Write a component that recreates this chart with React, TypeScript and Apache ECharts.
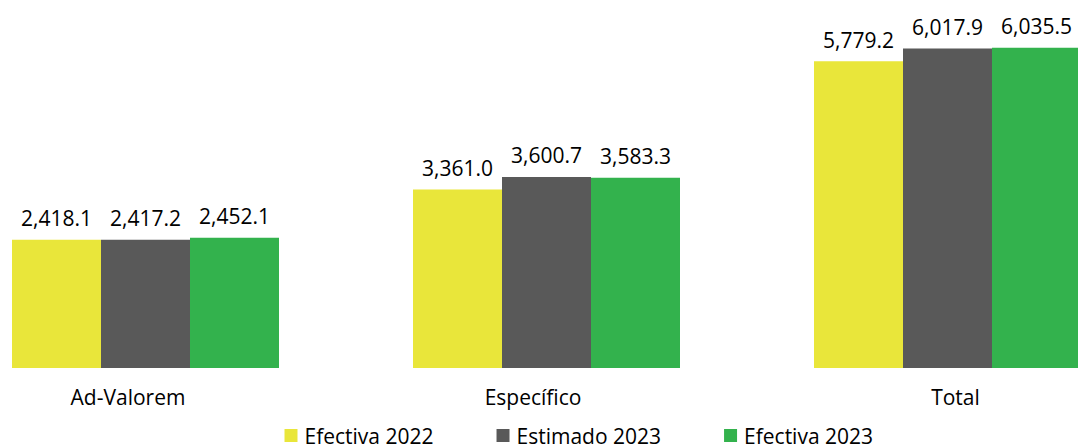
import React, { useEffect, useRef } from "react";
import * as echarts from "echarts";

const categories = ["Ad-Valorem", "Específico", "Total"];
const seriesNames = ["Efectiva 2022", "Estimado 2023", "Efectiva 2023"];
const efectiva2022 = [2418.1, 3361.0, 5779.2];
const estimado2023 = [2417.2, 3600.7, 6017.9];
const efectiva2023 = [2452.1, 3583.3, 6035.5];
const colors = ["#E9E63A", "#595959", "#33B24D"];

const fmt = (v: number) =>
  v.toLocaleString("en-US", { minimumFractionDigits: 1, maximumFractionDigits: 1 });

export default function App() {
  const ref = useRef<HTMLDivElement>(null);
  useEffect(() => {
    if (!ref.current) return;
    const chart = echarts.init(ref.current, null, { renderer: "svg" });
    const font = "Open Sans, Liberation Sans, sans-serif";
    const data = [efectiva2022, estimado2023, efectiva2023];
    // per-category horizontal nudge of axis labels (style only)
    const labelStyles = ["c0", "c1", "c2"];
    chart.setOption({
      animation: false,
      grid: { left: 0, width: 1203, top: 23, height: 345, containLabel: false },
      legend: {
        top: 420,
        left: 334.5,
        itemWidth: 13,
        itemHeight: 13,
        itemGap: 63,
        icon: "rect",
        textStyle: { fontFamily: font, fontSize: 21, color: "#000", padding: [0, 0, 0, 2] },
        data: seriesNames,
      },
      xAxis: {
        type: "category",
        data: categories,
        axisLine: { show: false },
        axisTick: { show: false },
        axisLabel: {
          fontFamily: font,
          fontSize: 21,
          color: "#000",
          margin: 18,
          formatter: (v: string, i: number) => `{${labelStyles[i]}|${v}}`,
          rich: {
            c0: { fontFamily: font, fontSize: 21, color: "#000", padding: [0, 35, 0, 0] },
            c1: { fontFamily: font, fontSize: 21, color: "#000", padding: [0, 27, 0, 0] },
            c2: { fontFamily: font, fontSize: 21, color: "#000", padding: [0, 0, 0, 16] },
          },
        },
      },
      yAxis: {
        type: "value",
        min: 0,
        max: 6500,
        show: false,
        splitLine: { show: false },
      },
      series: seriesNames.map((name, i) => ({
        name,
        type: "bar",
        data: data[i],
        barWidth: 89,
        barGap: "0%",
        itemStyle: { color: colors[i] },
        label: {
          show: true,
          position: "top",
          distance: 11,
          fontFamily: font,
          fontSize: 21,
          color: "#000",
          formatter: (p: any) => fmt(p.value),
        },
      })),
    });
    return () => chart.dispose();
  }, []);
  return (
    <div
      style={{
        position: "fixed",
        left: 0,
        top: 0,
        width: 1078,
        height: 448,
        overflow: "hidden",
        background: "#fff",
      }}
    >
      <div
        ref={ref}
        style={{ position: "absolute", left: -55.5, top: 0, width: 1203, height: 448 }}
      />
    </div>
  );
}
